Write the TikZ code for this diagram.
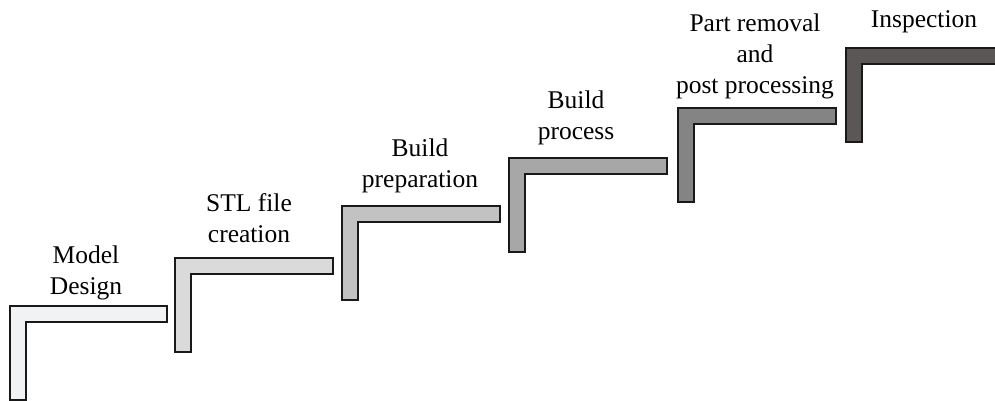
\documentclass[tikz,border=0pt]{standalone}
\usepackage{fontspec}
\setmainfont{Liberation Serif}

% fill shades of the six stairs, light to dark
\definecolor{stairA}{HTML}{F1F2F3}
\definecolor{stairB}{HTML}{DADADA}
\definecolor{stairC}{HTML}{C2C2C2}
\definecolor{stairD}{HTML}{A7A7A7}
\definecolor{stairE}{HTML}{848484}
\definecolor{stairF}{HTML}{5C5757}

\tikzset{
  stair/.style={draw=black!90, line width=2pt, line join=miter},
  steptext/.style={align=center, inner sep=0pt, anchor=south,
                   font=\rmfamily\fontsize{25.5}{31}\selectfont}
}

\begin{document}
\begin{tikzpicture}[x=1pt,y=-1pt]
  \useasboundingbox (0,0) rectangle (995,401);
  \clip (0,0) rectangle (995,401);
  % each stair: name / left / top / right / colour / label x / label bottom / label
  \foreach \name/\lft/\tp/\rgt/\col/\tx/\ty/\txt in {
      model/10/306/167/stairA/86/300.5/{Model\\Design},
      stl/175/258/333/stairB/249/243/{STL file\\creation},
      prep/342/206/500/stairC/420/193.5/{Build\\preparation},
      build/509/158/667/stairD/576/145.5/{Build\\process},
      post/678/108/836/stairE/755/99.5/{Part removal\\and\\post processing},
      insp/846/48/1010/stairF/924/33.5/{Inspection}}{
    \draw[stair, fill=\col] (\lft,\tp) -- (\rgt,\tp) -- (\rgt,\tp+16)
      -- (\lft+16,\tp+16) -- (\lft+16,\tp+94) -- (\lft,\tp+94) -- cycle;
    \node[steptext] (\name) at (\tx,\ty) {\txt};
  }
\end{tikzpicture}
\end{document}
